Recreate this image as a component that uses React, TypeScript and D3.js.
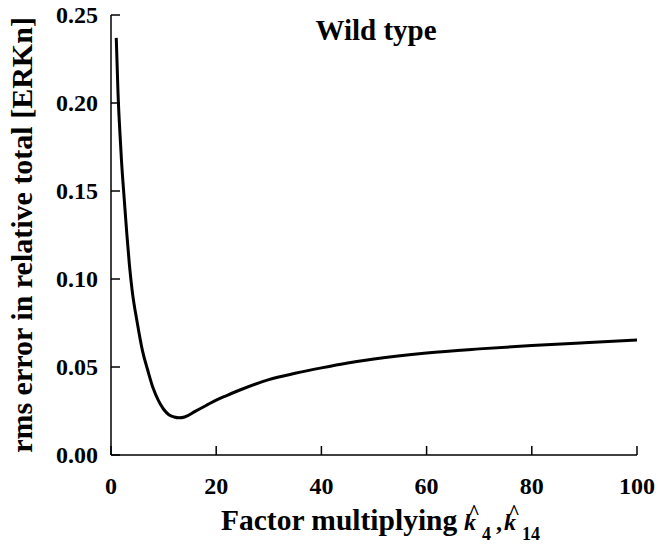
import React from "react";
import * as d3 from "d3";

const factorValues = [1, 1.33, 1.66, 2, 2.5, 3, 3.5, 4, 5, 6, 7, 8, 9, 10, 11, 12, 13, 14, 16, 18, 20, 22, 25, 30, 35, 40, 45, 50, 60, 70, 80, 90, 100];
const rmsErrorValues = [0.237, 0.206, 0.185, 0.167, 0.146, 0.126, 0.108, 0.094, 0.075, 0.059, 0.048, 0.038, 0.031, 0.026, 0.0229, 0.0216, 0.0211, 0.0216, 0.0248, 0.028, 0.0312, 0.0338, 0.0375, 0.0428, 0.0464, 0.0495, 0.0523, 0.0546, 0.058, 0.0603, 0.0622, 0.0638, 0.0653];
const xTicks = [0, 20, 40, 60, 80, 100];
const yTicks = [0, 0.05, 0.1, 0.15, 0.2, 0.25];
const titleText = "Wild type";
const yLabelText = "rms error in relative total [ERKn]";
const xLabelText = "Factor multiplying";
const xLabelSymbol = "k";
const xLabelSubscripts = ["4", "14"];

const W = 664;
const H = 549;
const left = 111;
const right = 637;
const top = 15;
const bottom = 455;
const FONT = "'Liberation Serif', 'Times New Roman', serif";

export default function App() {
  const x = d3.scaleLinear().domain([0, 100]).range([left, right]);
  const y = d3.scaleLinear().domain([0, 0.25]).range([bottom, top]);
  const data = factorValues.map((f, i) => [f, rmsErrorValues[i]] as [number, number]);
  const line = d3
    .line<[number, number]>()
    .x((d) => x(d[0]))
    .y((d) => y(d[1]))
    .curve(d3.curveMonotoneX);
  const tickLen = 9;
  return (
    <svg
      width={W}
      height={H}
      style={{ position: "absolute", left: 0, top: 0, background: "#fff" }}
      fontFamily={FONT}
      fontWeight="bold"
    >
      <rect x={0} y={0} width={W} height={H} fill="#fff" />
      <line x1={left} x2={left} y1={top} y2={bottom} stroke="#000" strokeWidth={1.5} />
      <line x1={left} x2={right} y1={bottom} y2={bottom} stroke="#000" strokeWidth={1.5} />
      {yTicks.map((t) => (
        <g key={"y" + t}>
          <line x1={left} x2={left + tickLen} y1={y(t)} y2={y(t)} stroke="#000" strokeWidth={1.5} />
          <text x={left - 13} y={y(t)} dy="0.34em" textAnchor="end" fontSize={24}>
            {d3.format(".2f")(t)}
          </text>
        </g>
      ))}
      {xTicks.map((t) => (
        <g key={"x" + t}>
          <line x1={x(t)} x2={x(t)} y1={bottom} y2={bottom - tickLen} stroke="#000" strokeWidth={1.5} />
          <text x={x(t)} y={494} textAnchor="middle" fontSize={24}>
            {t}
          </text>
        </g>
      ))}
      <path d={line(data) || ""} fill="none" stroke="#000" strokeWidth={3} strokeLinejoin="round" />
      <text x={376} y={40} textAnchor="middle" fontSize={29}>
        {titleText}
      </text>
      <text transform={`translate(32, 235) rotate(-90)`} textAnchor="middle" fontSize={30}>
        {yLabelText}
      </text>
      <text x={221} y={530} fontSize={29.5}>
        {xLabelText}
      </text>
      <text x={464} y={530} fontSize={24} fontStyle="italic">{xLabelSymbol}</text>
      <text x={474} y={519} fontSize={20} textAnchor="middle">^</text>
      <text x={482} y={540} fontSize={18}>{xLabelSubscripts[0]}</text>
      <text x={496} y={530} fontSize={24}>,</text>
      <text x={504} y={530} fontSize={24} fontStyle="italic">{xLabelSymbol}</text>
      <text x={514} y={519} fontSize={20} textAnchor="middle">^</text>
      <text x={522} y={540} fontSize={18}>{xLabelSubscripts[1]}</text>
    </svg>
  );
}
